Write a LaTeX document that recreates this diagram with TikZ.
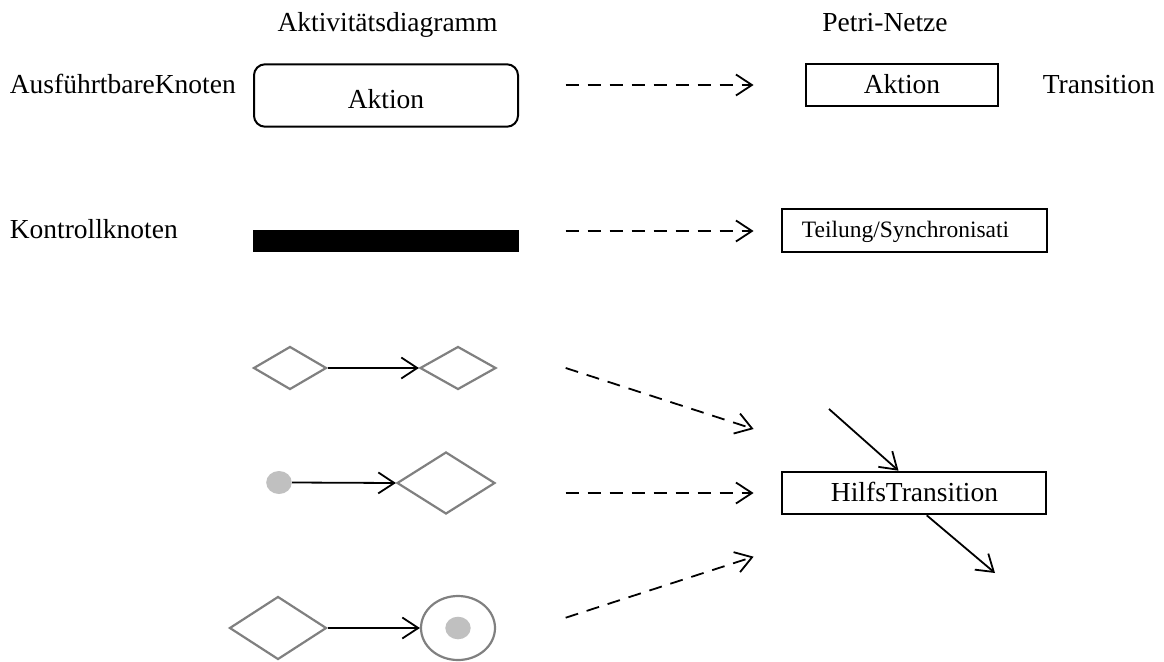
\documentclass[tikz,border=0pt]{standalone}
\usepackage{fontspec}
\setmainfont{Liberation Serif}
\usetikzlibrary{arrows.meta,shapes.geometric}
\definecolor{umlgray}{HTML}{808080}
\definecolor{tokengray}{HTML}{C0C0C0}
\tikzset{
  lbl/.style={inner sep=0pt, font=\fontsize{27.5}{33}\selectfont},
  small lbl/.style={inner sep=0pt, font=\fontsize{23.5}{28}\selectfont},
  tip/.style={-{Straight Barb[length=16pt,width=21pt,line width=1.8pt]}},
  flow/.style={tip, line width=1.8pt},
  mapto/.style={tip, line width=1.8pt, dash pattern=on 13pt off 9pt},
  box/.style={draw, line width=2pt, inner sep=0pt},
  gate/.style={diamond, draw=umlgray, line width=2.2pt, inner sep=0pt},
  token/.style={ellipse, fill=tokengray, inner sep=0pt},
}
\begin{document}
\begin{tikzpicture}[x=1pt, y=-1pt]
\useasboundingbox (0,0) rectangle (1164,661);

% column headings
\node[lbl, anchor=base] (hAD) at (387.5,31.7) {Aktivitätsdiagramm};
\node[lbl, anchor=base] (hPN) at (885,31.7) {Petri-Netze};

% row 1: executable node -> transition
\node[lbl, anchor=base west] (lExec) at (9.6,93.3) {AusführtbareKnoten};
\node[box, rounded corners=11pt, minimum width=264pt, minimum height=62.4pt] (act) at (386,95.5) {};
\node[lbl, anchor=base] (actT) at (386,108) {Aktion};
\node[box, minimum width=192pt, minimum height=42pt] (tr) at (902,85) {};
\node[lbl, anchor=base] (trT) at (902,93.3) {Aktion};
\node[lbl, anchor=base west] (lTrans) at (1042.6,93.3) {Transition};

% row 2: control node -> fork/join transition
\node[lbl, anchor=base west] (lCtrl) at (9.6,238) {Kontrollknoten};
\node[fill=black, inner sep=0pt, minimum width=266pt, minimum height=22.3pt] (bar) at (386,241) {};
\node[box, minimum width=264.7pt, minimum height=42.4pt] (sync) at (914.3,230.5) {};
\node[small lbl, anchor=base west] (syncT) at (801.7,237.3) {Teilung/Synchronisati};

% decision / merge fragments
\node[gate, minimum width=73pt, minimum height=43pt] (d1) at (290,368) {};
\node[gate, minimum width=76pt, minimum height=43pt] (d2) at (458,368) {};
\draw[flow] (d1.east) -- (d2.west);

\node[token, minimum width=25.6pt, minimum height=23pt] (start) at (279,482.5) {};
\node[gate, minimum width=98pt, minimum height=62pt] (d3) at (446,483) {};
\draw[flow] (start.east) -- (d3.west);

\node[gate, minimum width=97pt, minimum height=63pt] (d4) at (278,628) {};
\node[ellipse, draw=umlgray, line width=2.2pt, inner sep=0pt, minimum width=74pt, minimum height=64pt] (fin) at (458,628) {};
\node[token, minimum width=25.4pt, minimum height=22.6pt] (finDot) at (458,628) {};
\draw[flow] (d4.east) -- (fin.west);

% auxiliary transition
\node[box, minimum width=264pt, minimum height=42.6pt] (aux) at (914,493) {};
\node[lbl, anchor=base] (auxT) at (914.5,501.7) {HilfsTransition};
\coordinate (auxIn) at (829,409);
\coordinate (auxOut) at (995,573);
\draw[flow] (auxIn) -- ([xshift=-15.5pt]aux.north);
\draw[flow] ([xshift=12.7pt]aux.south) -- (auxOut);

% mapping arrows
\coordinate (s1) at (565.7,85);    \coordinate (t1) at (753.6,85);
\coordinate (s2) at (565.7,231);   \coordinate (t2) at (753.6,231);
\coordinate (s3) at (565.7,368);   \coordinate (t3) at (753.6,429);
\coordinate (s4) at (565.7,493);   \coordinate (t4) at (753.6,493);
\coordinate (s5) at (565.7,617.7); \coordinate (t5) at (753.6,556.7);
\draw[mapto] (s1) -- (t1);
\draw[mapto] (s2) -- (t2);
\draw[mapto] (s3) -- (t3);
\draw[mapto] (s4) -- (t4);
\draw[mapto] (s5) -- (t5);
\end{tikzpicture}
\end{document}
